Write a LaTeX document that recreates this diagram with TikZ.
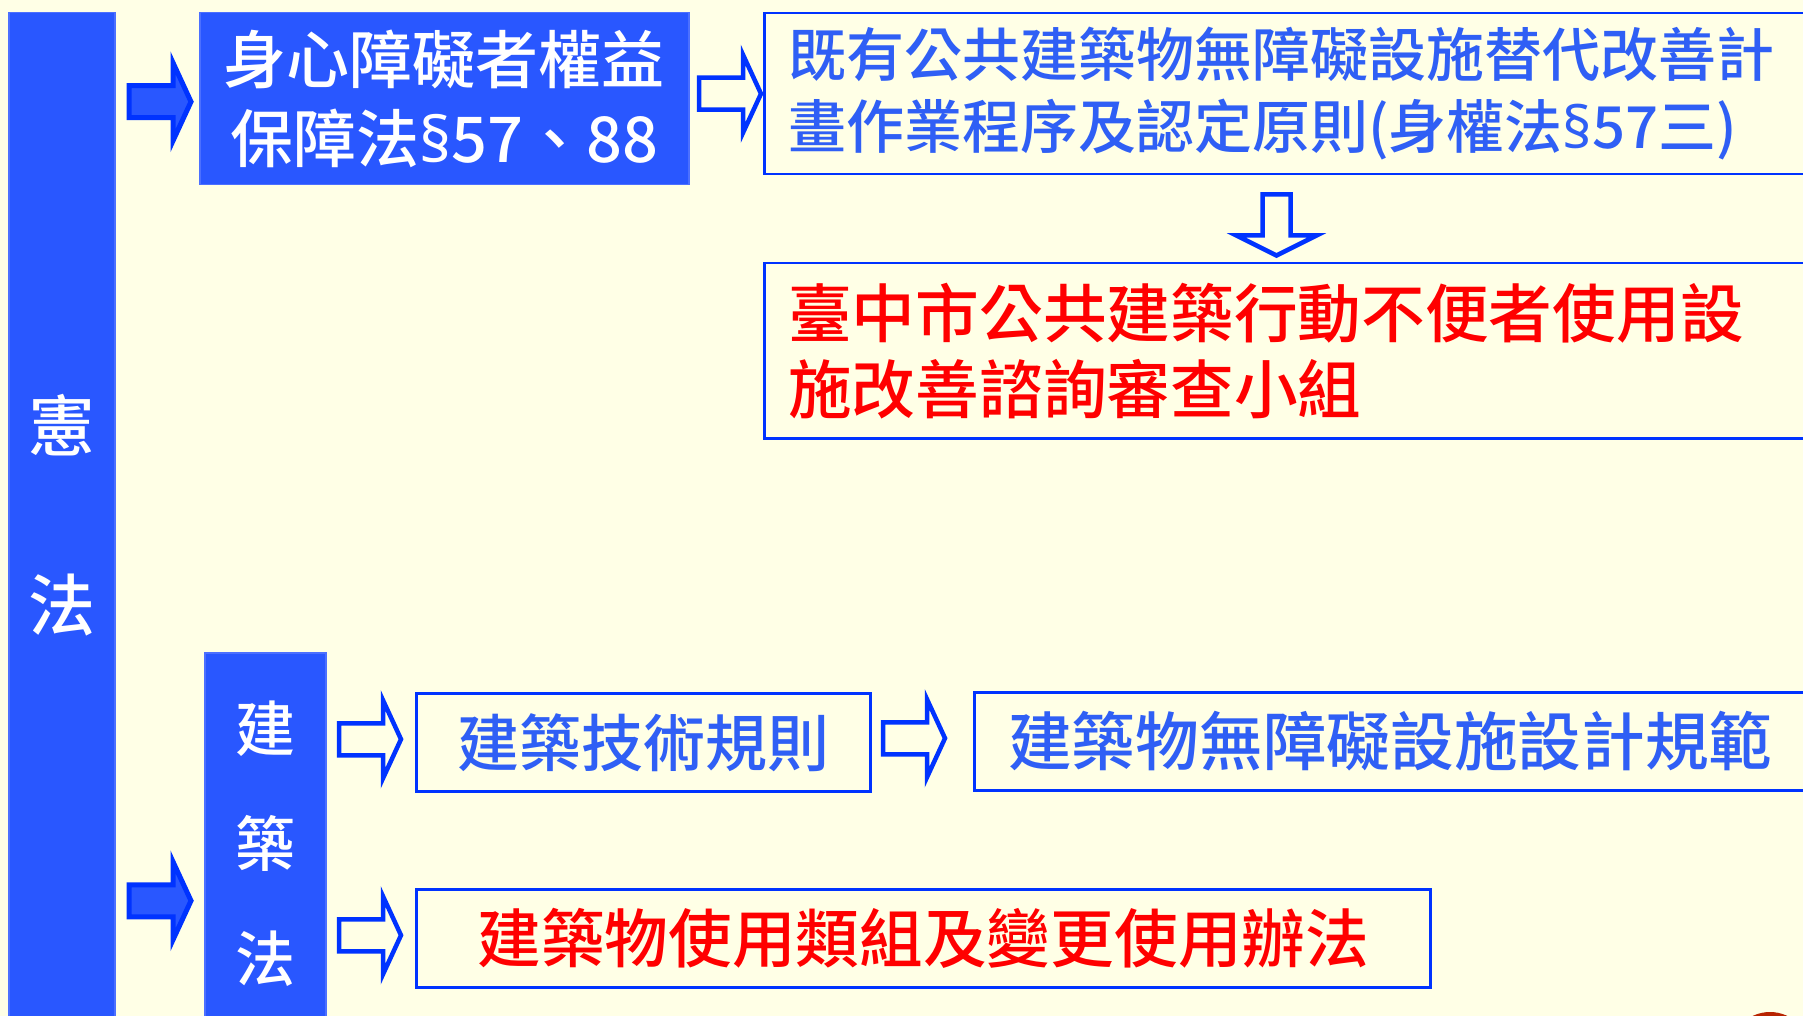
\documentclass[tikz,border=0pt]{standalone}
\usepackage{fontspec}
\newfontfamily\cjk{Noto Sans CJK TC}[BoldFont={* Medium}]
\newfontfamily\lat{Noto Sans}
\usetikzlibrary{calc}
\definecolor{bg}{HTML}{FFFFE6}
\definecolor{bfill}{HTML}{2957FF}
\definecolor{bline}{HTML}{0033FF}
\definecolor{btext}{HTML}{2F5FF5}
\definecolor{rtext}{HTML}{FF0000}
\definecolor{dotred}{HTML}{B82400}
\newcommand{\fs}[2]{\cjk\bfseries\fontsize{#1}{#2}\selectfont}
\newcommand{\sect}{{\lat\bfseries §}}
\begin{document}
\begin{tikzpicture}[x=1pt,y=-1pt,
  solidbox/.style={draw=bline!70!white, line width=1.5, fill=bfill, text=white, inner sep=0, anchor=north west},
  linebox/.style={draw=bline, line width=2.5, fill=bg, inner sep=0, anchor=north west},
  pics/hollowarrow/.style={code={\draw[bline, line width=4.5, fill=bg, line join=miter]
     (0,-16)--(44,-16)--(44,-39)--(62,0)--(44,39)--(44,16)--(0,16)--cycle;}},
  pics/solidarrow/.style={code={\draw[bline, line width=5, fill=bfill, line join=miter]
     (0,-16)--(44,-16)--(44,-39)--(62,0)--(44,39)--(44,16)--(0,16)--cycle;}},
  pics/downarrow/.style={code={\draw[bline, line width=4.5, fill=bg, line join=miter]
     (-14,0)--(-14,41)--(-40,41)--(0,61)--(40,41)--(14,41)--(14,0)--cycle;}}
]
\useasboundingbox (0,0) rectangle (1803,1016);
\clip (0,0) rectangle (1803,1016);
\fill[bg] (0,0) rectangle (1803,1016);

% nodes
\node[solidbox, minimum width=106, minimum height=1005, align=center, font=\fs{67}{179}] (xian) at (8,12) {憲\\法};
\node[solidbox, minimum width=489, minimum height=172, align=center, font=\fs{63}{79}] (A) at (199,12) {身心障礙者權益\\保障法\sect57、88};
\node[linebox, minimum width=1067, minimum height=161, text width=1019, align=left, text=btext, font=\fs{58}{72}] (B) at (763,12) {既有公共建築物無障礙設施替代改善計\\畫作業程序及認定原則(身權法\sect57三)};
\node[linebox, minimum width=1067, minimum height=175, text width=1019, align=left, text=rtext, font=\fs{63.7}{76}] (C) at (763,262) {臺中市公共建築行動不便者使用設\\施改善諮詢審查小組};
\node[solidbox, minimum width=121, minimum height=382, align=center, font=\fs{60}{115}] (D) at (204,652) {建\\築\\法};
\node[linebox, minimum width=454, minimum height=98, text=btext, font=\fs{62}{62}] (E) at (415,692) {建築技術規則};
\node[linebox, minimum width=857, minimum height=98, text width=789, align=left, text=btext, font=\fs{63.7}{64}] (F) at (973,691) {建築物無障礙設施設計規範};
\node[linebox, minimum width=1014, minimum height=98, text=rtext, font=\fs{63.7}{64}] (G) at (415,888) {建築物使用類組及變更使用辦法};

% connectors
\pic at ($(A.west)+(-70,3)$) {solidarrow};
\pic at ($(D.west)+(-75,57)$) {solidarrow};
\pic at ($(B.west)+(-64,0)$) {hollowarrow};
\pic at ($(B.south west)+(513.5,19)$) {downarrow};
\pic at ($(E.west)+(-76,-3)$) {hollowarrow};
\pic at ($(F.west)+(-90,-3)$) {hollowarrow};
\pic at ($(G.west)+(-76,-3)$) {hollowarrow};

% partial logo at bottom right
\fill[dotred] (1770,1052) circle (40);
\end{tikzpicture}
\end{document}
